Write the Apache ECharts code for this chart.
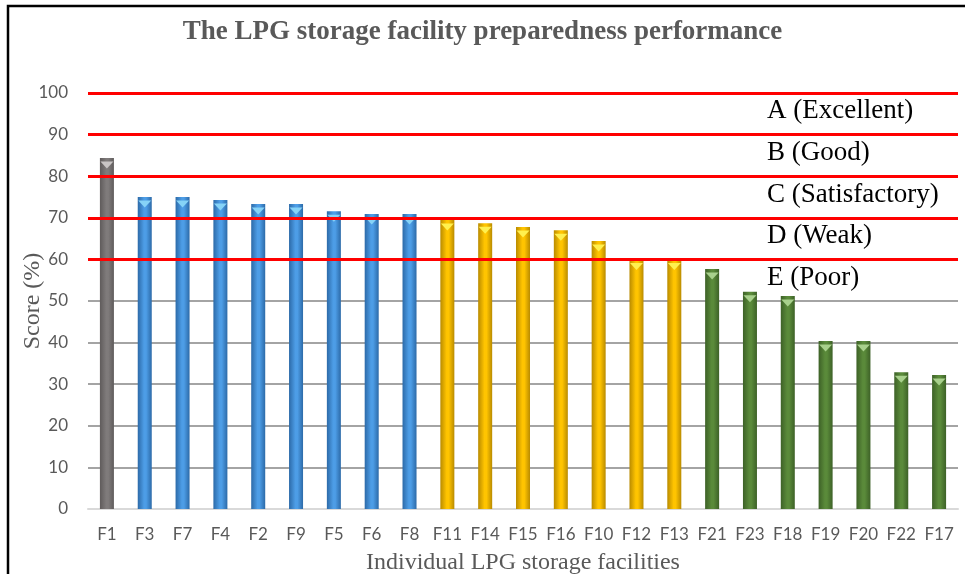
<!DOCTYPE html>
<html><head><meta charset="utf-8">
<script src="https://cdn.jsdelivr.net/npm/echarts@6/dist/echarts.min.js"></script>
<style>html,body{margin:0;padding:0;background:#fff}#c{width:965px;height:574px}</style>
</head><body><div id="c"></div>
<script>
const categories = ['F1','F3','F7','F4','F2','F9','F5','F6','F8','F11','F14','F15','F16','F10','F12','F13','F21','F23','F18','F19','F20','F22','F17'];
const scores = [84.4,75.0,75.0,74.3,73.3,73.3,71.6,70.9,70.9,69.5,68.7,67.8,67.0,64.4,60.0,60.0,57.7,52.2,51.2,40.4,40.4,32.9,32.2];
const groups = ['gray','blue','blue','blue','blue','blue','blue','blue','blue','yellow','yellow','yellow','yellow','yellow','yellow','yellow','green','green','green','green','green','green','green'];
const thresholds = [60,70,80,90,100];
const gradeLabels = ['A (Excellent)','B (Good)','C (Satisfactory)','D (Weak)','E (Poor)'];
const gradeCenters = [95,85,75,65,55];

const palette = {
  gray:   {edge:'#5f5b5b', mid:'#7f7b7b', cap:'#c9c5c5'},
  blue:   {edge:'#2c6aa8', mid:'#4d9de6', cap:'#86d3f7'},
  yellow: {edge:'#b98b00', mid:'#ffc400', cap:'#fff04f'},
  green:  {edge:'#3d6127', mid:'#5a8a3a', cap:'#a8d08c'}
};
function grad(p){
  return {type:'linear',x:0,y:0,x2:1,y2:0,colorStops:[
    {offset:0,color:p.edge},{offset:0.45,color:p.mid},{offset:0.6,color:p.mid},{offset:1,color:p.edge}]};
}
const chart = echarts.init(document.getElementById('c'));
const option = {
  animation:false,
  backgroundColor:'#fff',
  title:{text:'The LPG storage facility preparedness performance',left:'center',top:14,
    textStyle:{fontFamily:'Liberation Serif',fontWeight:'bold',fontSize:27,color:'#595959'}},
  grid:{left:88,right:7,top:93,bottom:65,containLabel:false,outerBoundsMode:'none'},
  xAxis:{type:'category',data:categories,
    name:'Individual LPG storage facilities',nameLocation:'middle',nameGap:42,
    nameTextStyle:{fontFamily:'Liberation Serif',fontSize:24,color:'#595959'},
    axisLine:{lineStyle:{color:'#d9d9d9',width:2}},axisTick:{show:false},
    axisLabel:{fontFamily:'Lato',fontSize:17,color:'#595959',margin:17,interval:0}},
  yAxis:{type:'value',min:0,max:100,interval:10,
    name:'Score (%)',nameLocation:'middle',nameGap:43,nameMoveOverlap:false,
    nameTextStyle:{fontFamily:'Liberation Serif',fontSize:24,color:'#595959'},
    axisLine:{show:false},axisTick:{show:false},
    axisLabel:{fontFamily:'Lato',fontSize:17,color:'#595959',margin:20},
    splitLine:{lineStyle:{color:'#868686',width:1.5}}},
  series:[
    {type:'bar',barWidth:14,z:2,
      data:scores.map((v,i)=>({value:v,itemStyle:{color:grad(palette[groups[i]])}})),
      markLine:{silent:true,symbol:'none',label:{show:false},
        lineStyle:{color:'#ff0000',width:3,type:'solid'},
        data:thresholds.map(t=>({yAxis:t}))}},
    {type:'pictorialBar',barGap:'-100%',z:3,symbol:'triangle',symbolRotate:180,
      symbolSize:[13,7],symbolPosition:'end',symbolOffset:[0,'50%'],
      data:scores.map((v,i)=>({value:v,itemStyle:{color:palette[groups[i]].cap}}))}
  ]
};
chart.setOption(option);
const g = gradeLabels.map((t,i)=>{
  const p = chart.convertToPixel({yAxisIndex:0},gradeCenters[i]);
  return {type:'text',left:767,top:p-16,style:{text:t,font:'27px "Liberation Serif"',fill:'#000'}};
});
g.push({type:'rect',shape:{x:8,y:6,width:1000,height:620},style:{fill:'none',stroke:'#000',lineWidth:2.5},z:100});
chart.setOption({graphic:g});
</script></body></html>
